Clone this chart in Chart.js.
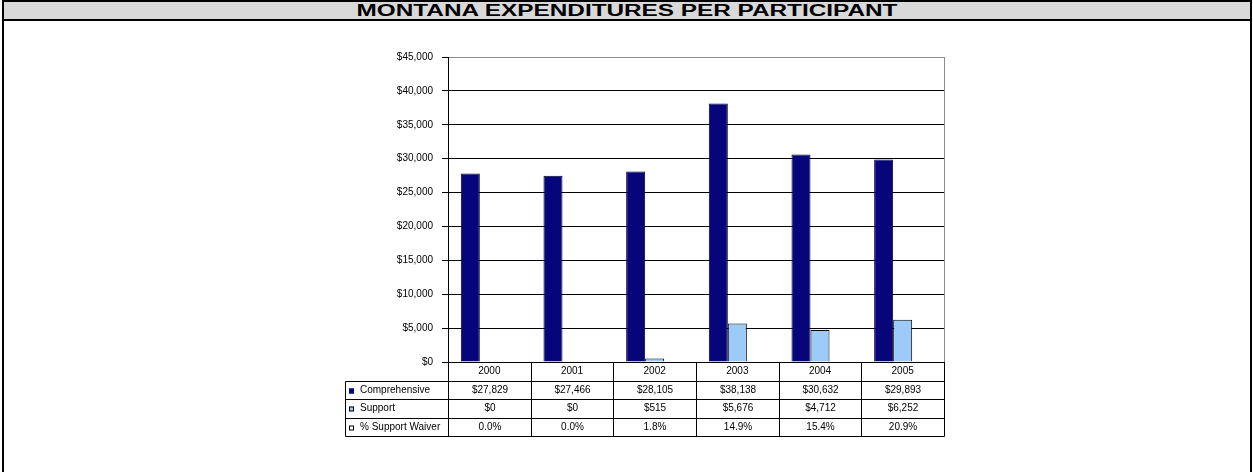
<!DOCTYPE html>
<html>
<head>
<meta charset="utf-8">
<script src="https://cdn.jsdelivr.net/npm/chart.js@4.4.1/dist/chart.umd.min.js"></script>
<style>
  html, body { margin: 0; padding: 0; background: #fff; }
  body { width: 1253px; height: 472px; position: relative; overflow: hidden; }
  .frame {
    position: absolute; left: 2px; top: 0px; width: 1246px; height: 472px;
    border-left: 2px solid #000; border-top: 2px solid #000; border-right: 2px solid #000;
  }
  .title {
    position: absolute; left: 4px; top: 2px; width: 1246px; height: 17px;
    background: #d9d9d9; border-bottom: 2px solid #000;
    overflow: hidden;
  }
  .title span {
    display: block; text-align: center;
    font: bold 16px "Liberation Sans", Arial, sans-serif; color: #000;
    line-height: 18px; transform: scaleX(1.52); transform-origin: 50% 50%;
  }
  #chart { position: absolute; left: 0; top: 0; }
</style>
</head>
<body>
<div class="frame"></div>
<div class="title"><span>MONTANA EXPENDITURES PER PARTICIPANT</span></div>
<canvas id="chart" width="1253" height="472"></canvas>
<script>
// Program years
const years = ['2000', '2001', '2002', '2003', '2004', '2005'];
// Dollars per participant
const comprehensive = [27829, 27466, 28105, 38138, 30632, 29893];
const support = [0, 0, 515, 5676, 4712, 6252];
// Share of participants in the support waiver, in percent
const supportWaiverPct = [0.0, 0.0, 1.8, 14.9, 15.4, 20.9];
// Value axis
const yMin = 0, yMax = 45000, yStep = 5000;

const seriesNames = ['Comprehensive', 'Support', '% Support Waiver'];
const fillColors = ['#06067a', '#9ccbf8', '#ffffff'];

const FONT = '"Liberation Sans", Arial, sans-serif';
const FONT_SIZE = 10;
const ROW_H = 18.5;
const TABLE_LEFT = 345;

const money = v => '$' + v.toLocaleString('en-US');
const pct = v => v.toFixed(1) + '%';

// Data table under the plot: grid, legend keys and values
const dataTable = {
  id: 'dataTable',
  afterDraw(chart) {
    const ctx = chart.ctx;
    const x = chart.scales.x;
    const area = chart.chartArea;
    const top = area.bottom;
    const rows = [
      { name: seriesNames[0], vals: comprehensive.map(money), fill: fillColors[0], stroke: fillColors[0] },
      { name: seriesNames[1], vals: support.map(money), fill: fillColors[1], stroke: '#000' },
      { name: seriesNames[2], vals: supportWaiverPct.map(pct), fill: fillColors[2], stroke: '#000' }
    ];
    const bounds = [];
    for (let i = 0; i <= years.length; i++) bounds.push(Math.round(x.getPixelForValue(i - 0.5)) + 0.5);
    const right = bounds[bounds.length - 1];
    const bottom = Math.round(top + ROW_H * (rows.length + 1)) + 0.5;

    ctx.save();
    // plot frame, right side
    ctx.strokeStyle = '#8c8c8c';
    ctx.lineWidth = 1;
    ctx.beginPath();
    ctx.moveTo(right, area.top);
    ctx.lineTo(right, top);
    ctx.stroke();

    ctx.strokeStyle = '#000';
    ctx.beginPath();
    bounds.forEach(bx => { ctx.moveTo(bx, top); ctx.lineTo(bx, bottom); });
    for (let r = 1; r <= rows.length + 1; r++) {
      const y = Math.round(top + r * ROW_H) + 0.5;
      ctx.moveTo(TABLE_LEFT + 0.5, y);
      ctx.lineTo(right, y);
    }
    ctx.moveTo(TABLE_LEFT + 0.5, Math.round(top + ROW_H) + 0.5);
    ctx.lineTo(TABLE_LEFT + 0.5, bottom);
    ctx.stroke();

    ctx.font = FONT_SIZE + 'px ' + FONT;
    ctx.textBaseline = 'middle';
    rows.forEach((row, r) => {
      const cy = Math.round(top + (r + 1.5) * ROW_H) + 0.5;
      // legend key
      ctx.fillStyle = row.fill;
      ctx.fillRect(TABLE_LEFT + 4, cy - 2, 5, 5);
      ctx.strokeStyle = row.stroke;
      ctx.strokeRect(TABLE_LEFT + 4.5, cy - 1.5, 4, 4);
      ctx.fillStyle = '#000';
      ctx.textAlign = 'left';
      ctx.fillText(row.name, TABLE_LEFT + 15, cy);
      ctx.textAlign = 'center';
      row.vals.forEach((v, i) => {
        ctx.fillText(v, (bounds[i] + bounds[i + 1]) / 2, cy);
      });
    });
    ctx.restore();
  }
};

new Chart(document.getElementById('chart'), {
  type: 'bar',
  data: {
    labels: years,
    datasets: [
      { label: seriesNames[0], data: comprehensive, backgroundColor: fillColors[0], borderColor: '#00003a', borderWidth: 1 },
      { label: seriesNames[1], data: support, backgroundColor: fillColors[1], borderColor: '#000', borderWidth: 1 },
      { label: seriesNames[2], data: supportWaiverPct, backgroundColor: fillColors[2], borderWidth: 0 }
    ]
  },
  options: {
    responsive: false,
    animation: false,
    devicePixelRatio: 1,
    layout: { padding: { left: 0, top: 57, right: 1253 - 944, bottom: 472 - 436 } },
    datasets: { bar: { categoryPercentage: 0.69, barPercentage: 1.0 } },
    plugins: { legend: { display: false }, tooltip: { enabled: false }, title: { display: false } },
    scales: {
      x: {
        offset: true,
        grid: { display: false, drawTicks: false },
        border: { display: true, color: '#000', width: 1 },
        ticks: { color: '#000', font: { family: FONT, size: FONT_SIZE }, padding: 3, maxRotation: 0 },
        afterFit(scale) { scale.height = ROW_H * 4; }
      },
      y: {
        min: yMin, max: yMax,
        ticks: {
          stepSize: yStep, color: '#000', padding: 9,
          font: { family: FONT, size: FONT_SIZE },
          callback: v => money(v)
        },
        grid: {
          color: c => (c.tick && c.tick.value === yMax) ? '#8c8c8c' : '#000',
          tickColor: '#000', tickLength: 6, drawTicks: true
        },
        border: { display: true, color: '#000', width: 1 },
        afterFit(scale) { scale.width = 448; }
      }
    }
  },
  plugins: [dataTable]
});
</script>
</body>
</html>
